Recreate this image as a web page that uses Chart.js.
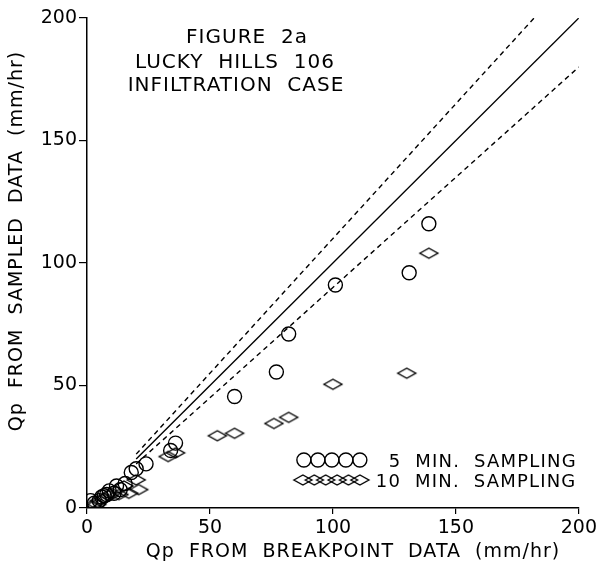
<!DOCTYPE html>
<html>
<head>
<meta charset="utf-8">
<script src="https://cdn.jsdelivr.net/npm/chart.js@4.4.1/dist/chart.umd.min.js"></script>
<style>
  html, body { margin: 0; padding: 0; background: #fff; }
  #wrap { width: 600px; height: 571px; }
</style>
</head>
<body>
<div id="wrap"><canvas id="fig2a"></canvas></div>
<script>
// 5 min sampling (circles)
const fiveMinX = [139, 131, 101, 82, 77, 60, 36, 34, 24, 20, 18, 15.5, 13.5, 11, 8, 6, 5, 3, 1.5, 9, 7, 12];
const fiveMinY = [116, 96, 91, 71, 55.5, 45.5, 26.5, 23.5, 18, 16, 14.5, 10, 7.5, 6, 5.5, 4.5, 3, 2, 3, 7, 5, 9];
// 10 min sampling (diamonds)
const tenMinX = [139, 130, 100, 82, 76, 60, 53, 36, 33, 20, 21, 17, 15, 13, 9, 7, 5, 4, 2, 10];
const tenMinY = [104, 55, 50.5, 37, 34.5, 30.5, 29.5, 22.5, 21, 11.5, 7.5, 6, 9, 5.5, 5, 4, 3, 1.5, 1, 6];
// 1:1 line and +/-10% lines
const lineX = [20, 200];
const lineY = [20, 200];
const upperX = [20, 181.8];
const upperY = [22, 200];
const lowerX = [20, 200];
const lowerY = [18, 180];
const axisTicks = [0, 50, 100, 150, 200];

const FONT = '"DejaVu Sans", sans-serif';
const pts = (xs, ys) => xs.map((x, i) => ({ x: x, y: ys[i] }));

// flattened diamond marker
const diamond = document.createElement('canvas');
diamond.width = 22;
diamond.height = 14;
(function () {
    const c = diamond.getContext('2d');
    c.strokeStyle = '#000';
    c.lineWidth = 1.4;
    c.beginPath();
    c.moveTo(2, 7);
    c.lineTo(11, 2);
    c.lineTo(20, 7);
    c.lineTo(11, 12);
    c.closePath();
    c.stroke();
})();

const textPlugin = {
    id: 'figText',
    afterDraw(chart) {
        const ctx = chart.ctx;
        const a = chart.chartArea;
        ctx.save();
        ctx.fillStyle = '#000';
        ctx.strokeStyle = '#000';
        ctx.letterSpacing = '1px';

        // figure caption
        ctx.font = '20px ' + FONT;
        ctx.textAlign = 'center';
        ctx.textBaseline = 'middle';
        ctx.fillText('FIGURE  2a', a.left + 160, a.top + 20);
        ctx.fillText('LUCKY  HILLS  106', a.left + 148, a.top + 45);
        ctx.fillText('INFILTRATION  CASE', a.left + 149, a.top + 68);

        // axis titles
        ctx.font = '19px ' + FONT;
        ctx.fillText('Qp  FROM  BREAKPOINT  DATA  (mm/hr)', 353, 552);
        ctx.translate(17, 241);
        ctx.rotate(-Math.PI / 2);
        ctx.fillText('Qp  FROM  SAMPLED  DATA  (mm/hr)', 0, 0);
        ctx.setTransform(1, 0, 0, 1, 0, 0);

        // legend
        const lx = a.right - 275;
        const ly1 = a.bottom - 48;
        const ly2 = a.bottom - 28;
        ctx.lineWidth = 1.4;
        for (let i = 0; i < 5; i++) {
            ctx.beginPath();
            ctx.arc(lx + i * 14, ly1, 7, 0, Math.PI * 2);
            ctx.stroke();
        }
        for (let i = 0; i < 6; i++) {
            ctx.drawImage(diamond, lx - 12 + i * 11.4, ly2 - 7);
        }
        ctx.font = '18px ' + FONT;
        ctx.letterSpacing = '1.2px';
        ctx.textAlign = 'left';
        ctx.textBaseline = 'alphabetic';
        ctx.fillText('5  MIN.  SAMPLING', lx + 85, ly1 + 7);
        ctx.fillText('10  MIN.  SAMPLING', lx + 72, ly2 + 7);
        ctx.restore();
    }
};

new Chart(document.getElementById('fig2a'), {
    type: 'scatter',
    data: {
        datasets: [
            {
                label: '5 MIN. SAMPLING',
                data: pts(fiveMinX, fiveMinY),
                pointStyle: 'circle',
                pointRadius: 7,
                borderColor: '#000',
                backgroundColor: 'rgba(0,0,0,0)',
                borderWidth: 1.4,
            },
            {
                label: '10 MIN. SAMPLING',
                data: pts(tenMinX, tenMinY),
                pointStyle: diamond,
                pointRadius: 9,
                borderColor: '#000',
            },
            {
                type: 'line',
                label: '1:1',
                data: pts(lineX, lineY),
                borderColor: '#000',
                borderWidth: 1.4,
                pointRadius: 0,
            },
            {
                type: 'line',
                label: '+10%',
                data: pts(upperX, upperY),
                borderColor: '#000',
                borderWidth: 1.4,
                borderDash: [5, 4],
                pointRadius: 0,
            },
            {
                type: 'line',
                label: '-10%',
                data: pts(lowerX, lowerY),
                borderColor: '#000',
                borderWidth: 1.4,
                borderDash: [5, 4],
                pointRadius: 0,
            },
        ],
    },
    options: {
        responsive: true,
        maintainAspectRatio: false,
        animation: false,
        layout: {
            padding: { top: 18, right: 20, left: 0, bottom: 0 },
        },
        plugins: {
            legend: { display: false },
            tooltip: { enabled: false },
        },
        scales: {
            x: {
                type: 'linear',
                min: 0,
                max: 200,
                afterBuildTicks: (scale) => { scale.ticks = axisTicks.map((v) => ({ value: v })); },
                afterFit: (scale) => { scale.height = 63; },
                ticks: {
                    color: '#000',
                    padding: 3,
                    font: { family: FONT, size: 19 },
                },
                grid: { drawOnChartArea: false, drawTicks: true, tickLength: 6, color: '#000', lineWidth: 1.2 },
                border: { color: '#000', width: 1.5 },
            },
            y: {
                type: 'linear',
                min: 0,
                max: 200,
                afterBuildTicks: (scale) => { scale.ticks = axisTicks.map((v) => ({ value: v })); },
                afterFit: (scale) => { scale.width = 87; },
                ticks: {
                    color: '#000',
                    padding: 2,
                    font: { family: FONT, size: 19 },
                },
                grid: { drawOnChartArea: false, drawTicks: true, tickLength: 8, color: '#000', lineWidth: 1.2 },
                border: { color: '#000', width: 1.5 },
            },
        },
    },
    plugins: [textPlugin],
});
</script>
</body>
</html>
